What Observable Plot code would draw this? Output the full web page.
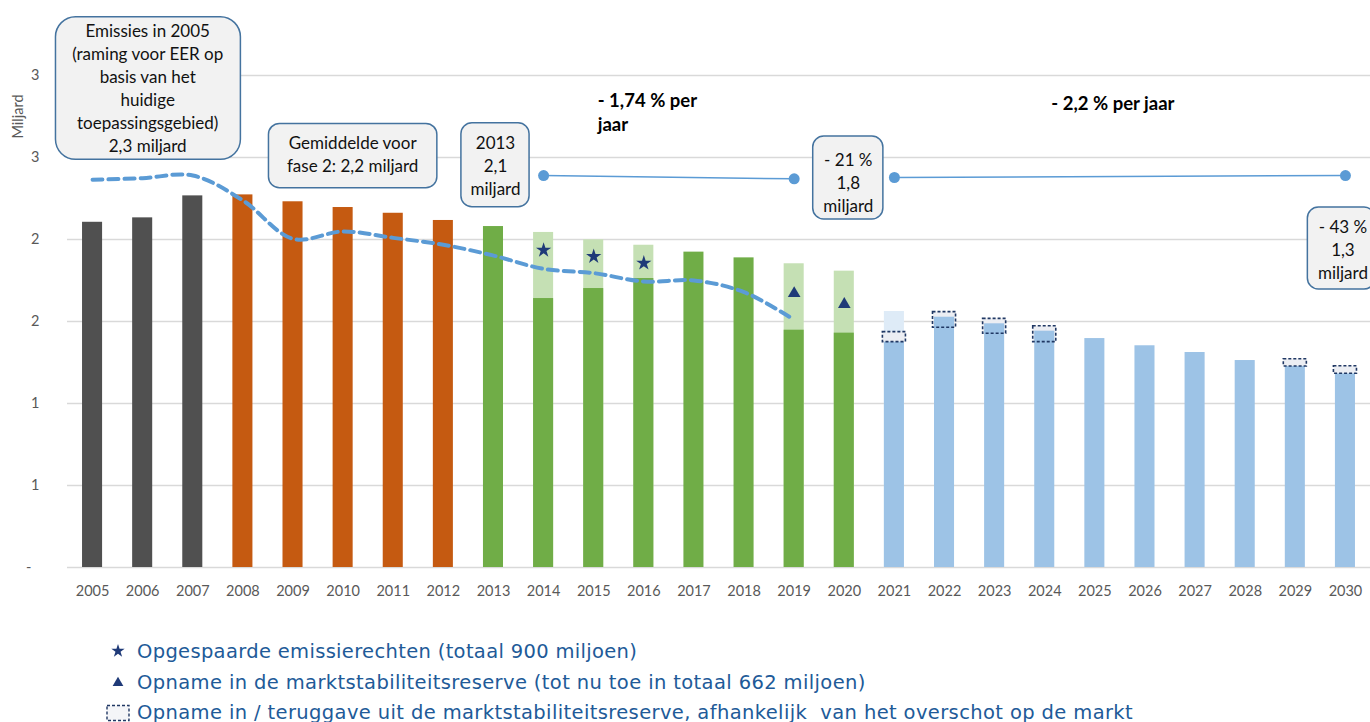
<!DOCTYPE html>
<html>
<head>
<meta charset="utf-8">
<script src="https://cdn.jsdelivr.net/npm/d3@7"></script>
<script src="https://cdn.jsdelivr.net/npm/@observablehq/plot@0.6"></script>
<style>
  body { margin: 0; background: #fff; font-family: Lato, "Open Sans", sans-serif; }
  #chart svg { display: block; }
  #chart g[aria-label="notes"] text { letter-spacing: 0.45px; }
  #chart g[aria-label="rates"] text { letter-spacing: 0.3px; }
  #chart g[aria-label="xlabels"] text, #chart g[aria-label="ylabels"] text { letter-spacing: 0.4px; }
  #chart g[aria-label="ytitle"] text { letter-spacing: 0.8px; }
  #legend { margin-top: 26px; margin-left: 106px; color: #215a98; font-family: "DejaVu Sans", sans-serif; font-size: 19.5px; }
  #legend .row { display: flex; align-items: center; height: 30.8px; white-space: pre; }
  #legend .sym { width: 28px; height: 20px; flex: none; }
</style>
</head>
<body>
<div id="chart"></div>
<div id="legend"></div>
<script>
// ---------- data ----------
const years = [2005,2006,2007,2008,2009,2010,2011,2012,2013,2014,2015,2016,2017,2018,2019,2020,2021,2022,2023,2024,2025,2026,2027,2028,2029,2030];
const phases = ["hist","hist","hist","f2","f2","f2","f2","f2","f3","f3","f3","f3","f3","f3","f3","f3","f4","f4","f4","f4","f4","f4","f4","f4","f4","f4"];
const mainValues = [2.105,2.132,2.266,2.272,2.230,2.195,2.160,2.116,2.079,1.640,1.701,1.762,1.923,1.888,1.447,1.429,1.374,1.526,1.486,1.441,1.396,1.352,1.311,1.262,1.226,1.181];
const capValues  = [null,null,null,null,null,null,null,null,null,2.043,1.998,1.965,null,null,1.852,1.807,1.561,null,null,null,null,null,null,null,null,null];

const trendYears  = [2005,2006,2007,2008,2009,2010,2011,2012,2013,2014,2015,2016,2017,2018,2019];
const trendValues = [2.364,2.374,2.390,2.238,2.004,2.049,2.010,1.968,1.902,1.821,1.795,1.744,1.750,1.679,1.510];

const bankedYears  = [2014,2015,2016];
const bankedValues = [1.935,1.896,1.856];
const msrYears  = [2019,2020];
const msrValues = [1.671,1.605];

const msrBoxYears = [2021,2022,2023,2024,2029,2030];
const msrBoxLow   = [1.374,1.462,1.425,1.374,1.226,1.181];
const msrBoxHigh  = [1.435,1.557,1.516,1.471,1.270,1.227];

const capLineYears  = [[2014,2019],[2021,2030]];
const capLineValues = [[2.390,2.370],[2.378,2.390]];

const yTicks = [0,0.5,1,1.5,2,2.5,3];

// annotation callouts (data coordinates: year, Miljard)
const noteTexts = [
  "Emissies in 2005\n(raming voor EER op\nbasis van het\nhuidige\ntoepassingsgebied)\n2,3 miljard",
  "Gemiddelde voor\nfase 2: 2,2 miljard",
  "2013\n2,1\nmiljard",
  "- 21 %\n1,8\nmiljard",
  "- 43 %\n1,3\nmiljard"
];
const noteX  = [2006.10, 2010.19, 2013.04, 2020.08, 2029.95];
const noteY  = [2.928, 2.527, 2.456, 2.354, 1.946];
const noteX1 = [2004.27, 2008.52, 2012.36, 2019.38, 2029.25];
const noteX2 = [2007.96, 2011.88, 2013.72, 2020.78, 2030.60];
const noteY1 = [2.486, 2.313, 2.197, 2.122, 1.695];
const noteY2 = [3.355, 2.705, 2.709, 2.628, 2.195];

const rateTexts = ["- 1,74 % per\njaar", "- 2,2 % per jaar"];
const rateX = [2015.08, 2025.36];
const rateY = [2.783, 2.827];
const rateAnchor = ["start", "middle"];

const legendTexts = [
  "Opgespaarde emissierechten (totaal 900 miljoen)",
  "Opname in de marktstabiliteitsreserve (tot nu toe in totaal 662 miljoen)",
  "Opname in / teruggave uit de marktstabiliteitsreserve, afhankelijk  van het overschot op de markt"
];
const legendWidths = [500, 729, 996];

// ---------- tables ----------
const bars = years.map((year, i) => ({year, value: mainValues[i], cap: capValues[i], phase: phases[i]}));
const trend = trendYears.map((year, i) => ({year, value: trendValues[i]}));
const banked = bankedYears.map((year, i) => ({year, value: bankedValues[i]}));
const msr = msrYears.map((year, i) => ({year, value: msrValues[i]}));
const msrBoxes = msrBoxYears.map((year, i) => ({year, lo: msrBoxLow[i], hi: msrBoxHigh[i]}));
const capLines = capLineYears.flatMap((ys, k) => ys.map((year, i) => ({seg: k, year, value: capLineValues[k][i]})));
const notes = noteTexts.map((text, i) => ({text, x: noteX[i], y: noteY[i], x1: noteX1[i], x2: noteX2[i], y1: noteY1[i], y2: noteY2[i]}));
const rates = rateTexts.map((text, i) => ({text, x: rateX[i], y: rateY[i], anchor: rateAnchor[i]}));

const mainColor = {hist: "#505050", f2: "#c55a11", f3: "#70ad47", f4: "#9dc3e6"};
const capColor  = {f3: "#c5e0b4", f4: "#deebf7"};
const HW = 0.2, BW = 0.23;
const font = "Lato, 'Open Sans', sans-serif";

const marks = [
  Plot.ruleY(yTicks, {stroke: "#d9d9d9", strokeWidth: 1.3}),
];
for (const p of ["f3", "f4"]) {
  marks.push(Plot.rect(bars.filter(d => d.cap != null && d.phase === p), {
    x1: d => d.year - HW, x2: d => d.year + HW, y1: 0, y2: "cap", fill: capColor[p]
  }));
}
marks.push(Plot.rect(msrBoxes, {x1: d => d.year - BW, x2: d => d.year + BW, y1: "lo", y2: "hi", fill: "#eceef3"}));
for (const p of ["hist", "f2", "f3", "f4"]) {
  marks.push(Plot.rect(bars.filter(d => d.phase === p), {
    x1: d => d.year - HW, x2: d => d.year + HW, y1: 0, y2: "value", fill: mainColor[p]
  }));
}
marks.push(
  Plot.rect(msrBoxes, {x1: d => d.year - BW, x2: d => d.year + BW, y1: "lo", y2: "hi", fill: "none",
    stroke: "#203864", strokeWidth: 1.6, strokeDasharray: "3,2"}),
  Plot.line(trend, {x: "year", y: "value", curve: "catmull-rom", stroke: "#5b9bd5", strokeWidth: 4, strokeDasharray: "10,6"}),
  Plot.line(capLines, {x: "year", y: "value", z: "seg", stroke: "#5b9bd5", strokeWidth: 1.5}),
  Plot.dot(capLines, {x: "year", y: "value", r: 5.5, fill: "#5b9bd5"}),
  Plot.dot(banked, {x: "year", y: "value", symbol: "star", r: 4.8, fill: "#1f3a78"}),
  Plot.dot(msr, {x: "year", y: "value", symbol: "triangle", r: 4.7, fill: "#1f3a78"}),
  // callout boxes
  Plot.rect(notes.slice(0, 1), {x1: "x1", x2: "x2", y1: "y1", y2: "y2", rx: 20, fill: "#f2f2f2", stroke: "#44739f", strokeWidth: 1.5}),
  Plot.rect(notes.slice(1), {x1: "x1", x2: "x2", y1: "y1", y2: "y2", rx: 11, fill: "#f2f2f2", stroke: "#44739f", strokeWidth: 1.5}),
  Plot.text(notes, {x: "x", y: "y", text: "text", fontSize: 17, lineHeight: 1.36, fill: "#111", ariaLabel: "notes"}),
  Plot.text(rates.filter(d => d.anchor === "start"), {x: "x", y: "y", text: "text", fontSize: 18.5, fontWeight: "bold", lineHeight: 1.32, fill: "#000", textAnchor: "start", ariaLabel: "rates"}),
  Plot.text(rates.filter(d => d.anchor === "middle"), {x: "x", y: "y", text: "text", fontSize: 18.5, fontWeight: "bold", fill: "#000", textAnchor: "middle", ariaLabel: "rates"}),
  // axes as text
  Plot.text(years, {x: d => d, y: 0, dy: 24, text: d => String(d), fontSize: 14.5, fill: "#595959", ariaLabel: "xlabels"}),
  Plot.text(yTicks.filter(d => d > 0), {y: d => d, frameAnchor: "left", dx: -28, textAnchor: "end", text: d => String(Math.round(d)), fontSize: 14.5, fill: "#595959", ariaLabel: "ylabels"}),
  Plot.text([0], {y: d => d, frameAnchor: "left", dx: -36, textAnchor: "end", text: d => "-", fontSize: 14.5, fill: "#595959", ariaLabel: "ylabels"}),
  Plot.text([2.75], {y: d => d, frameAnchor: "left", dx: -49, rotate: -90, textAnchor: "middle", text: d => "Miljard", fontSize: 14.5, fill: "#595959", ariaLabel: "ytitle"})
);

const chart = Plot.plot({
  width: 1370, height: 610,
  marginLeft: 67, marginRight: 0, marginTop: 75, marginBottom: 43,
  x: {type: "linear", domain: [2004.5, 2030.5], axis: null},
  y: {domain: [0, 3], axis: null},
  style: {fontFamily: font, background: "white", overflow: "visible"},
  marks
});
document.getElementById("chart").appendChild(chart);

// ---------- legend ----------
const legend = document.getElementById("legend");
const starPath = d3.symbol().type(d3.symbolStar).size(55)();
const triPath = d3.symbol().type(d3.symbolTriangle).size(50)();
const syms = [
  `<svg class="sym" viewBox="-14 -10 28 20"><path d="${starPath}" transform="translate(-2,0)" fill="#1f3a78"/></svg>`,
  `<svg class="sym" viewBox="-14 -10 28 20"><path d="${triPath}" transform="translate(-2,1)" fill="#1f3a78"/></svg>`,
  `<svg class="sym" viewBox="-14 -10 28 20"><rect x="-13" y="-7.5" width="22" height="15" fill="#f4f5f8" stroke="#203864" stroke-width="1.4" stroke-dasharray="3,2"/></svg>`
];
legendTexts.forEach((t, i) => {
  const row = document.createElement("div");
  row.className = "row";
  row.innerHTML = syms[i] + `<span style="margin-left:3px">${t}</span>`;
  legend.appendChild(row);
  const span = row.querySelector("span");
  const w = span.getBoundingClientRect().width;
  const ls = (legendWidths[i] - w) / t.length;
  span.style.letterSpacing = ls.toFixed(2) + "px";
});
</script>
</body>
</html>
